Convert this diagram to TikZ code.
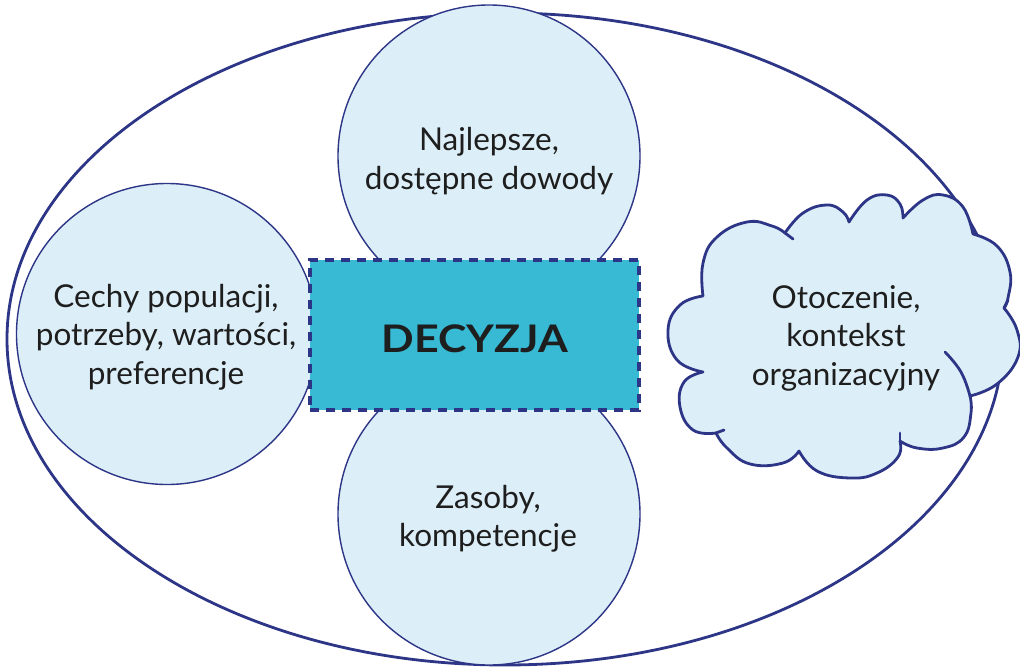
\documentclass[tikz,border=0pt]{standalone}
\usepackage{fontspec}
\setmainfont{Lato}
\usetikzlibrary{shapes.geometric}
\definecolor{navy}{RGB}{45,53,135}
\definecolor{pale}{RGB}{220,238,247}
\definecolor{tealbox}{RGB}{56,185,212}
\definecolor{ink}{RGB}{30,30,30}
\begin{document}
\begin{tikzpicture}[x=1pt,y=-1pt,
  bubble/.style={circle, draw=navy, line width=1.4pt, fill=pale, minimum size=302pt, inner sep=0pt},
  txt/.style={text=ink, font=\fontsize{31.5}{38.5}\selectfont, align=center, inner sep=0pt},
  cloudline/.style={draw=navy, line width=2.8pt, line join=round, line cap=round},
  lobe/.style={smooth, tension=0.75}]
\useasboundingbox (0,0) rectangle (1020,667);
% outer ellipse
\node[ellipse, draw=navy, line width=2.8pt, fill=white, minimum width=996pt, minimum height=652pt, inner sep=0pt] (outer) at (505,339) {};
% circles
\node[bubble] (topc) at (489,156) {};
\node[bubble] (botc) at (489,514) {};
\node[bubble, minimum size=301pt] (leftc) at (167,334) {};
% cloud
\path[fill=pale, cloudline]
  plot[lobe] coordinates {(703,296) (703,263) (717,237) (747,222) (772,226) (785,233)}
  -- plot[lobe] coordinates {(785,233) (803,213) (827,205) (843,212) (849,222)}
  -- plot[lobe] coordinates {(849,222) (867,200) (887,195) (900,204) (903,218)}
  -- plot[lobe] coordinates {(903,218) (923,200) (943,195) (963,207) (973,234)}
  -- plot[lobe] coordinates {(973,234) (997,246) (1010,272) (1008,298) (1004,308)}
  -- plot[lobe] coordinates {(1004,308) (1017,330) (1018,357) (997,384) (970,396)}
  -- plot[lobe] coordinates {(970,396) (971,413) (964,437) (943,448) (917,448) (900,441)}
  -- plot[lobe] coordinates {(900,441) (898,457) (877,473) (850,478) (817,471) (799,451)}
  -- plot[lobe] coordinates {(799,451) (783,463) (750,464) (727,448) (716,433)}
  -- plot[lobe] coordinates {(716,433) (693,430) (680,407) (684,382) (703,372)}
  -- plot[lobe] coordinates {(703,372) (677,360) (668,330) (680,305) (703,296)}
  -- cycle;
\draw[cloudline] plot[lobe] coordinates {(945,352) (961,372) (970,396)};
\draw[cloudline] plot[lobe] coordinates {(785,233) (793,239)};
\draw[cloudline] plot[lobe] coordinates {(716,433) (724,430)};
\draw[cloudline] plot[lobe] coordinates {(900,441) (900,433)};
\draw[cloudline] plot[lobe] coordinates {(1004,308) (1008,300)};
% decision box
\node[draw=navy, fill=tealbox, line width=3.2pt, dash pattern=on 9pt off 7pt, minimum width=329pt, minimum height=150pt, inner sep=0pt] (dec) at (474.5,335) {};
\node[text=ink, font=\fontsize{38}{40}\selectfont\bfseries, inner sep=0pt] (dectxt) at (475,338.5) {\scalebox{1.13}[1]{DECYZJA}};
% labels
\node[txt] (toptxt) at (489,161) {Najlepsze,\\dostępne dowody};
\node[txt] (lefttxt) at (166,337) {Cechy populacji,\\potrzeby, wartości,\\preferencje};
\node[txt] (cloudtxt) at (846,338) {Otoczenie,\\kontekst\\organizacyjny};
\node[txt] (bottxt) at (488,519) {Zasoby,\\kompetencje};
\end{tikzpicture}
\end{document}
